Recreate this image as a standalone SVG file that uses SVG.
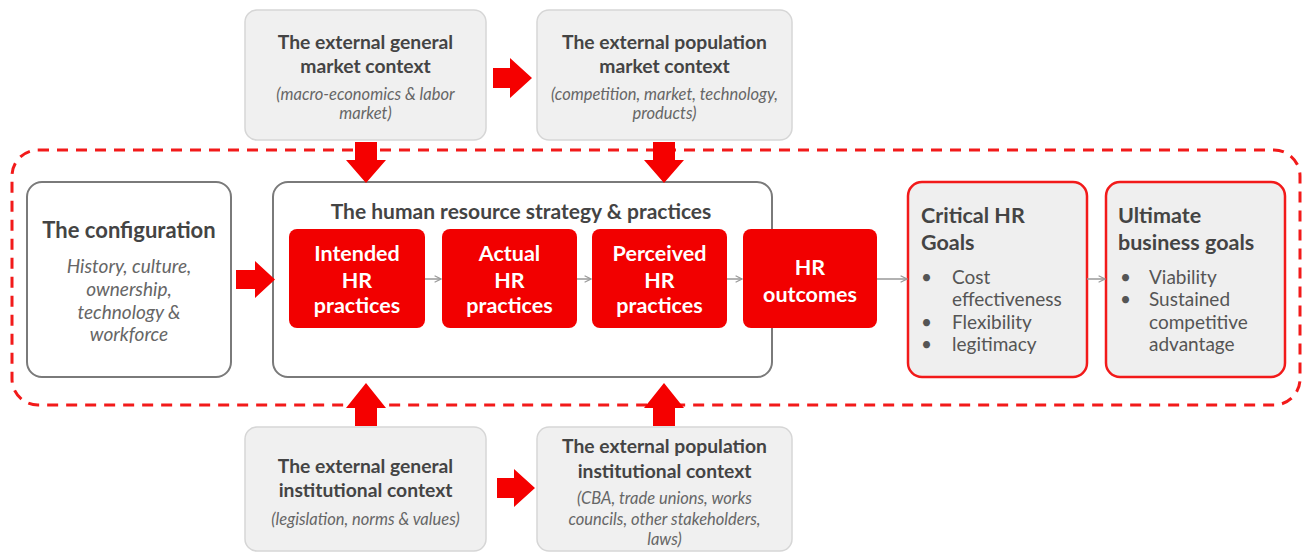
<svg xmlns="http://www.w3.org/2000/svg" width="1305" height="554" viewBox="0 0 1305 554">
  <defs>
    <marker id="chev" viewBox="0 0 10 10" refX="9" refY="5" markerWidth="8" markerHeight="8" orient="auto" markerUnits="userSpaceOnUse">
      <path d="M1,1 L9,5 L1,9" fill="none" stroke="#999" stroke-width="1.4"/>
    </marker>
  </defs>
  <style>
    .ctx { fill: #f0f0f0; stroke: #d6d6d6; stroke-width: 1.5; }
    .plain { fill: #fff; stroke: #7a7a7a; stroke-width: 2; }
    .goal { fill: #efefef; stroke: #f21a1a; stroke-width: 2.5; }
    .hr { fill: #f20000; }
    .boundary { fill: none; stroke: #f21a1a; stroke-width: 3; stroke-dasharray: 11 8; }
    .big { fill: #f50000; }
    .thin { stroke: #999; stroke-width: 1.5; fill: none; }
    text { font-family: Lato, "Open Sans", "Liberation Sans", sans-serif; text-anchor: middle; }
    .t { font-size: 19.3px; font-weight: bold; fill: #444; }
    .i { font-size: 16.5px; font-style: italic; fill: #666; }
    .ct { font-size: 22px; font-weight: bold; fill: #444; }
    .ci { font-size: 19px; font-style: italic; fill: #666; }
    .w { font-size: 21.5px; font-weight: bold; fill: #fff; }
    .h { font-size: 21.5px; font-weight: bold; fill: #444; text-anchor: start; }
    .b { font-size: 19px; fill: #555; text-anchor: start; }
  </style>

  <!-- dashed boundary of the organisation -->
  <rect class="boundary" x="12" y="150" width="1288" height="255" rx="26"/>

  <g id="ext-general-market">
    <rect class="ctx" x="245" y="10" width="241" height="130" rx="12"/>
    <text class="t" x="365.5" y="49">The external general</text>
    <text class="t" x="365.5" y="73">market context</text>
    <text class="i" x="365.5" y="100">(macro-economics &amp; labor</text>
    <text class="i" x="365.5" y="119">market)</text>
  </g>

  <g id="ext-population-market">
    <rect class="ctx" x="537" y="10" width="255" height="130" rx="12"/>
    <text class="t" x="664.5" y="49">The external population</text>
    <text class="t" x="664.5" y="73">market context</text>
    <text class="i" x="664.5" y="100">(competition, market, technology,</text>
    <text class="i" x="664.5" y="119">products)</text>
  </g>

  <g id="configuration">
    <rect class="plain" x="27" y="182" width="204" height="195" rx="15"/>
    <text class="ct" x="129" y="238">The configuration</text>
    <text class="ci" x="129" y="273">History, culture,</text>
    <text class="ci" x="129" y="296">ownership,</text>
    <text class="ci" x="129" y="319">technology &amp;</text>
    <text class="ci" x="129" y="341">workforce</text>
  </g>

  <g id="hr-strategy">
    <rect class="plain" x="273" y="182" width="499" height="195" rx="15"/>
    <text class="ct" x="521" y="219" style="font-size:21px">The human resource strategy &amp; practices</text>
  </g>

  <g id="intended">
    <rect class="hr" x="289" y="229" width="136" height="99" rx="8"/>
    <text class="w" x="357" y="261">Intended</text>
    <text class="w" x="357" y="288">HR</text>
    <text class="w" x="357" y="313">practices</text>
  </g>

  <g id="actual">
    <rect class="hr" x="442" y="229" width="135" height="99" rx="8"/>
    <text class="w" x="509.5" y="261">Actual</text>
    <text class="w" x="509.5" y="288">HR</text>
    <text class="w" x="509.5" y="313">practices</text>
  </g>

  <g id="perceived">
    <rect class="hr" x="592" y="229" width="135" height="99" rx="8"/>
    <text class="w" x="659.5" y="261">Perceived</text>
    <text class="w" x="659.5" y="288">HR</text>
    <text class="w" x="659.5" y="313">practices</text>
  </g>

  <g id="outcomes">
    <rect class="hr" x="743" y="229" width="134" height="99" rx="8"/>
    <text class="w" x="810" y="275">HR</text>
    <text class="w" x="810" y="302">outcomes</text>
  </g>

  <g id="critical-goals">
    <rect class="goal" x="908" y="182" width="179" height="195" rx="14"/>
    <text class="h" x="921" y="223">Critical HR</text>
    <text class="h" x="921" y="250">Goals</text>
    <text class="b" x="921" y="284">•</text>
    <text class="b" x="952" y="284">Cost</text>
    <text class="b" x="952" y="306">effectiveness</text>
    <text class="b" x="921" y="329">•</text>
    <text class="b" x="952" y="329">Flexibility</text>
    <text class="b" x="921" y="351">•</text>
    <text class="b" x="952" y="351">legitimacy</text>
  </g>

  <g id="ultimate-goals">
    <rect class="goal" x="1106" y="182" width="179" height="195" rx="14"/>
    <text class="h" x="1118" y="223">Ultimate</text>
    <text class="h" x="1118" y="250">business goals</text>
    <text class="b" x="1120" y="284">•</text>
    <text class="b" x="1149" y="284">Viability</text>
    <text class="b" x="1120" y="306">•</text>
    <text class="b" x="1149" y="306">Sustained</text>
    <text class="b" x="1149" y="329">competitive</text>
    <text class="b" x="1149" y="351">advantage</text>
  </g>

  <g id="ext-general-institutional">
    <rect class="ctx" x="245" y="427" width="241" height="124" rx="12"/>
    <text class="t" x="365.5" y="473">The external general</text>
    <text class="t" x="365.5" y="497">institutional context</text>
    <text class="i" x="365.5" y="525">(legislation, norms &amp; values)</text>
  </g>

  <g id="ext-population-institutional">
    <rect class="ctx" x="537" y="427" width="255" height="124" rx="12"/>
    <text class="t" x="664.5" y="453">The external population</text>
    <text class="t" x="664.5" y="478">institutional context</text>
    <text class="i" x="664.5" y="504">(CBA, trade unions, works</text>
    <text class="i" x="664.5" y="525">councils, other stakeholders,</text>
    <text class="i" x="664.5" y="545">laws)</text>
  </g>

  <g id="connectors">
    <!-- block arrows -->
    <path class="big" d="M493,68 H510 V58 L532,78 L510,98 V88 H493 Z"/>
    <path class="big" d="M497,478 H514 V469 L535,488 L514,507 V498 H497 Z"/>
    <path class="big" d="M355,142 H377 V160 H386 L366,183 L346,160 H355 Z"/>
    <path class="big" d="M653,142 H675 V160 H684 L664,183 L644,160 H653 Z"/>
    <path class="big" d="M236,270 H255 V261 L275,279.5 L255,298 V289 H236 Z"/>
    <path class="big" d="M355,426 H377 V408 H386 L366,383 L346,408 H355 Z"/>
    <path class="big" d="M653,426 H675 V408 H684 L664,383 L644,408 H653 Z"/>
    <!-- thin flow arrows -->
    <line class="thin" x1="425" y1="279" x2="441" y2="279" marker-end="url(#chev)"/>
    <line class="thin" x1="577" y1="279" x2="591" y2="279" marker-end="url(#chev)"/>
    <line class="thin" x1="727" y1="279" x2="742" y2="279" marker-end="url(#chev)"/>
    <line class="thin" x1="877" y1="279" x2="907" y2="279" marker-end="url(#chev)"/>
    <line class="thin" x1="1087" y1="279" x2="1105" y2="279" marker-end="url(#chev)"/>
  </g>
</svg>
